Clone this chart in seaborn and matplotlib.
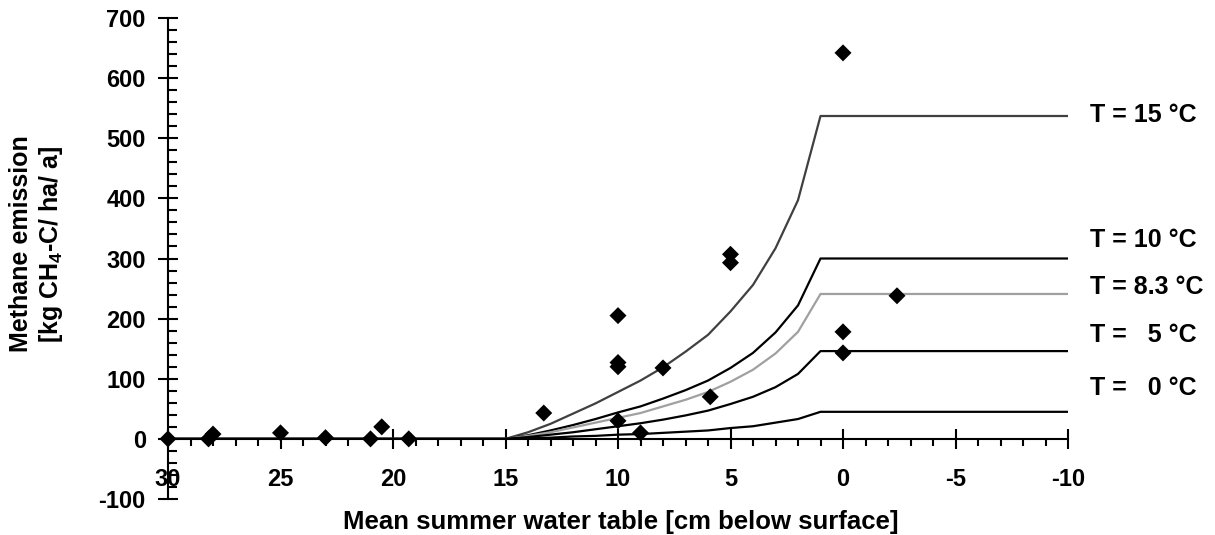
import numpy as np
import pandas as pd
import matplotlib
matplotlib.use("Agg")
import matplotlib.pyplot as plt
import seaborn as sns
from matplotlib.ticker import MultipleLocator

# observed sites: mean summer water table [cm below surface] vs methane emission
obs_wt = [30, 28.2, 28.0, 25, 23, 21.0, 20.5, 19.3, 13.3, 10, 10, 10, 10, 9.0, 8.0, 5.9, 5.0, 5.0, 0, 0, 0, -2.4]
obs_ch4 = [0, 0, 8, 10, 2, 0, 20, 0, 43, 205, 127, 120, 30, 10, 118, 70, 307, 293, 642, 178, 143, 238]

model_wt = [30, 15, 14, 13, 12, 11, 10, 9, 8, 7, 6, 5, 4, 3, 2, 1, -10]
t15 = [0, 0, 11, 25, 42, 59, 78, 97, 119, 145, 173, 212, 256, 317, 397, 537, 537]
t10 = [0, 0, 6, 14, 23, 33, 44, 54, 67, 81, 97, 118, 143, 177, 222, 300, 300]
t83 = [0, 0, 5, 11, 19, 27, 35, 43, 54, 65, 78, 95, 115, 142, 178, 241, 241]
t5 = [0, 0, 3, 7, 11, 16, 21, 26, 32, 39, 47, 58, 70, 86, 108, 146, 146]
t0 = [0, 0, 1, 2, 4, 5, 7, 8, 10, 12, 14, 18, 21, 27, 33, 45, 45]

curve_names = ['T = 15 °C', 'T = 10 °C', 'T = 8.3 °C', 'T =   5 °C', 'T =   0 °C']
curve_vals = [t15, t10, t83, t5, t0]
curve_cols = ['#404040', '#000000', '#a0a0a0', '#000000', '#000000']
label_y = [539, 331, 252, 173, 84]

sns.set_style("white")
plt.rcParams['font.family'] = ['Liberation Sans', 'DejaVu Sans']
plt.rcParams['font.weight'] = 'bold'
plt.rcParams['mathtext.fontset'] = 'custom'
plt.rcParams['mathtext.rm'] = 'Liberation Sans:bold'
plt.rcParams['mathtext.default'] = 'rm'
plt.rcParams['axes.unicode_minus'] = False
plt.rcParams['text.color'] = 'black'
plt.rcParams['xtick.color'] = 'black'
plt.rcParams['ytick.color'] = 'black'

rows = []
for name, vals in zip(curve_names, curve_vals):
    for w, v in zip(model_wt, vals):
        rows.append({'wt': w, 'ch4': v, 'T': name})
curves = pd.DataFrame(rows)
obs = pd.DataFrame({'wt': obs_wt, 'ch4': obs_ch4})

fig = plt.figure(figsize=(12.15, 5.35), dpi=100)
ax = fig.add_axes([168/1215, 36/535, 900/1215, 481/535])

sns.lineplot(data=curves, x='wt', y='ch4', hue='T', palette=dict(zip(curve_names, curve_cols)),
             sort=False, estimator=None, legend=False, linewidth=1.6, ax=ax)
sns.scatterplot(data=obs, x='wt', y='ch4', marker='D', s=75, color='black',
                edgecolor='none', ax=ax, clip_on=False, zorder=5)

ax.set_xlim(30, -10)
ax.set_ylim(-100, 700)
ax.xaxis.set_major_locator(MultipleLocator(5))
ax.xaxis.set_minor_locator(MultipleLocator(1))
ax.yaxis.set_major_locator(MultipleLocator(100))
ax.yaxis.set_minor_locator(MultipleLocator(20))

for s in ['top', 'right']:
    ax.spines[s].set_visible(False)
ax.spines['bottom'].set_position(('data', 0))
for s in ['left', 'bottom']:
    ax.spines[s].set_linewidth(1.5)
    ax.spines[s].set_color('black')

ax.tick_params(axis='x', which='both', bottom=True)
ax.tick_params(axis='y', which='both', left=True)
ax.tick_params(axis='x', which='major', direction='inout', length=14, width=1.5, pad=14, labelsize=17, colors='black')
ax.tick_params(axis='x', which='minor', direction='out', length=5, width=1.5, colors='black')
ax.tick_params(axis='y', which='major', direction='inout', length=14, width=1.5, pad=9, labelsize=17, colors='black')
ax.tick_params(axis='y', which='minor', direction='in', length=6.5, width=1.5, colors='black')
ax.set_xlabel('')
ax.set_ylabel('')

for name, yy in zip(curve_names, label_y):
    ax.text(-10.98, yy, name, fontsize=18, fontweight='bold', ha='left', va='center', clip_on=False)

fig.text(37/1215, 1 - 244/535, 'Methane emission\n[kg CH$_4$-C/ ha/ a]', rotation=90,
         ha='center', va='center', multialignment='center', fontsize=18, fontweight='bold', linespacing=1.2)
fig.text(621/1215, 1 - 522/535, 'Mean summer water table [cm below surface]',
         ha='center', va='center', fontsize=18.5, fontweight='bold')

fig.savefig('out.png', dpi=100, facecolor='white')
